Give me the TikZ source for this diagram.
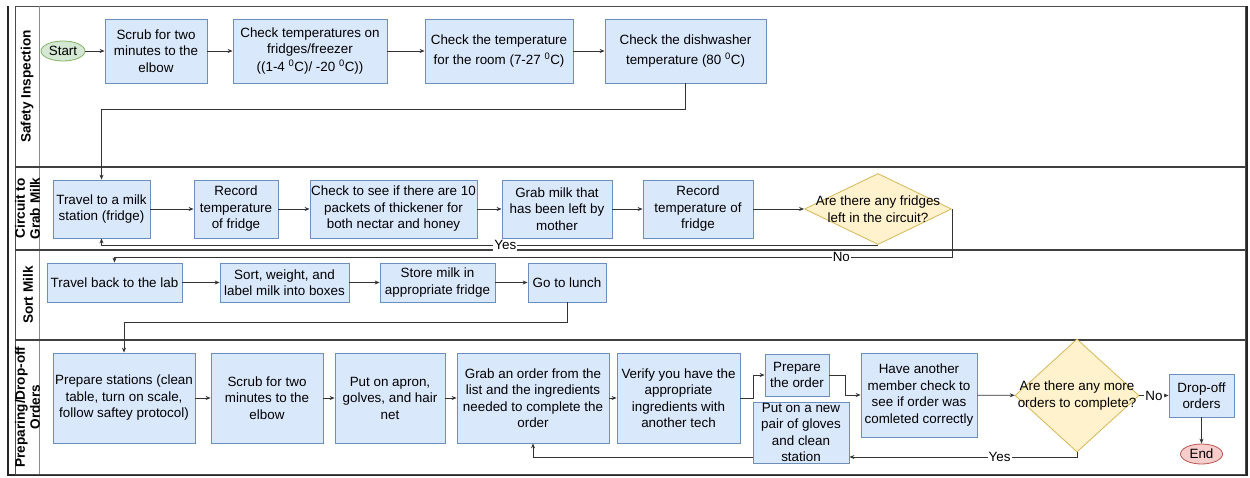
\documentclass[tikz,border=0pt]{standalone}
\usepackage{fontspec}
\setmainfont{Liberation Sans}
\usetikzlibrary{shapes.geometric,arrows.meta}
\definecolor{bfill}{HTML}{DAE8FC}
\definecolor{bdraw}{HTML}{6C8EBF}
\definecolor{yfill}{HTML}{FFF2CC}
\definecolor{ydraw}{HTML}{D6B656}
\definecolor{gfill}{HTML}{D5E8D4}
\definecolor{gdraw}{HTML}{82B366}
\definecolor{rfill}{HTML}{F8CECC}
\definecolor{rdraw}{HTML}{B85450}
\newcommand{\dg}{\textsuperscript{0}}
\begin{document}
\begin{tikzpicture}[x=1pt,y=-1pt,
  every node/.style={font=\fontsize{13.4}{16.5}\selectfont},
  box/.style={draw=bdraw,fill=bfill,align=center,inner sep=0pt,line width=0.8pt},
  bx/.style 2 args={box,minimum width=#1pt,minimum height=#2pt},
  dia/.style={diamond,draw=ydraw,fill=yfill,inner sep=0pt,line width=0.8pt},
  diatext/.style={align=center,inner sep=0pt},
  startnode/.style={ellipse,draw=gdraw,fill=gfill,inner sep=0pt,line width=0.8pt,minimum width=44pt,minimum height=20pt},
  endnode/.style={ellipse,draw=rdraw,fill=rfill,inner sep=0pt,line width=0.8pt,minimum width=42pt,minimum height=20pt},
  arr/.style={draw=black!80,line width=0.8pt,-{Stealth[length=5pt,width=4pt]}},
  lbl/.style={fill=white,inner sep=1pt},
  lanelbl/.style={rotate=90,align=center,inner sep=0pt,font=\fontsize{13.6}{15}\selectfont\bfseries},
  lanesep/.style={draw=black!75,line width=1.1pt},
]
\useasboundingbox (0,0) rectangle (1250,477);
% frame
\draw[black!85,line width=1.8pt] (8,6) -- (8,475) -- (1247,475) -- (1247,6);
\draw[black!70,line width=0.9pt] (15,6) rectangle (1245,474);
\draw[black!45,line width=0.8pt] (39,6) -- (39,474);
\draw[lanesep] (15,167) -- (1245,167);
\draw[lanesep] (15,250) -- (1245,250);
\draw[lanesep] (15,340) -- (1245,340);
% lane labels
\node[lanelbl] (L1) at (27,86.5) {Safety Inspection};
\node[lanelbl] (L2) at (27.5,208.5) {Circuit to\\Grab Milk};
\node[lanelbl] (L3) at (28,295) {Sort Milk};
\node[lanelbl] (L4) at (27.5,407) {Preparing/Drop-off\\Orders};
% lane 1
\node[startnode] (start) at (63,51) {Start};
\node[bx={102}{64}] (s1) at (156,51) {Scrub for two\\minutes to the\\elbow};
\node[bx={154}{64}] (s2) at (310,51) {Check temperatures on\\fridges/freezer\\[1pt]((1-4 \dg C)/ -20 \dg C))};
\node[bx={148}{64}] (s3) at (499,51) {Check the temperature\\[3.5pt]for the room (7-27 \dg C)};
\node[bx={161}{64}] (s4) at (685.5,51) {Check the dishwasher\\[3.5pt]temperature (80 \dg C)};
% lane 2
\node[bx={97}{58}] (c1) at (101.5,209) {Travel to a milk\\station (fridge)};
\node[bx={84}{58}] (c2) at (236,209) {Record\\temperature\\of fridge};
\node[bx={167}{58}] (c3) at (393.5,209) {Check to see if there are 10\\packets of thickener for\\both nectar and honey};
\node[bx={110}{58}] (c4) at (557,209) {Grab milk that\\has been left by\\mother};
\node[bx={110}{58}] (c5) at (698,209) {Record\\temperature of\\fridge};
\node[dia,minimum width=147pt,minimum height=71pt] (d1) at (878,209) {};
\node[diatext] (d1t) at (d1) {Are there any fridges\\left in the circuit?};
% lane 3
\node[bx={135}{39}] (t1) at (114.5,282.5) {Travel back to the lab};
\node[bx={129}{39}] (t2) at (284.5,282.5) {Sort, weight, and\\label milk into boxes};
\node[bx={115}{39}] (t3) at (437.5,282.5) {Store milk in\\appropriate fridge};
\node[bx={78}{39}] (t4) at (567,282.5) {Go to lunch};
% lane 4
\node[bx={142}{90}] (p1) at (124,398) {Prepare stations (clean\\table, turn on scale,\\follow saftey protocol)};
\node[bx={112}{90}] (p2) at (267,398) {Scrub for two\\minutes to the\\elbow};
\node[bx={110}{90}] (p3) at (390,398) {Put on apron,\\golves, and hair\\net};
\node[bx={152}{90}] (p4) at (533,398) {Grab an order from the\\list and the ingredients\\needed to complete the\\order};
\node[bx={123}{90}] (p5) at (678.5,398) {Verify you have the\\appropriate\\ingredients with\\another tech};
\node[bx={64}{42}] (p6) at (797,375) {Prepare\\the order};
\node[bx={96}{61}] (p7) at (801,432.5) {Put on a new\\pair of gloves\\and clean\\station};
\node[bx={116}{84}] (p8) at (919,395) {Have another\\member check to\\see if order was\\comleted correctly};
\node[dia,minimum width=124pt,minimum height=113pt] (d2) at (1077,395.5) {};
\node[diatext] (d2t) at (d2) {Are there any more\\orders to complete?};
\node[bx={65}{43}] (q1) at (1201.5,395.5) {Drop-off\\orders};
\node[endnode] (end) at (1201.5,454) {End};
\coordinate (yl) at (0,457);
% connectors lane 1
\draw[arr] (start) -- (s1);
\draw[arr] (s1) -- (s2);
\draw[arr] (s2) -- (s3);
\draw[arr] (s3) -- (s4);
\draw[arr] (s4.south) -- ++(0,26) -| (c1.north);
% lane 2
\draw[arr] (c1) -- (c2);
\draw[arr] (c2) -- (c3);
\draw[arr] (c3) -- (c4);
\draw[arr] (c4) -- (c5);
\draw[arr] (c5) -- (d1);
\draw[arr] (d1.south) -| node[pos=0.24,lbl] (yes1) {Yes} (c1.south);
\draw[arr] (d1.east) -- ++(0,48) -| node[pos=0.066,lbl] (no1) {No} (t1.north);
% lane 3
\draw[arr] (t1) -- (t2);
\draw[arr] (t2) -- (t3);
\draw[arr] (t3) -- (t4);
\draw[arr] (t4.south) -- ++(0,19.5) -| (p1.north);
% lane 4
\draw[arr] (p1) -- (p2);
\draw[arr] (p2) -- (p3);
\draw[arr] (p3) -- (p4);
\draw[arr] (p4) -- (p5);
\draw[arr] (p5.east) -- ++(13,0) |- (p6.west);
\draw[arr] (p6.east) -- ++(16,0) |- (p8.west);
\draw[arr] (p8) -- (d2);
\draw[arr] (d2) -- node[midway,lbl] (no2) {No} (q1);
\draw[arr] (q1) -- (end);
\draw[arr] (d2.south) |- node[pos=0.67,lbl] (yes2) {Yes} (p7.east |- yl);
\draw[arr] (p7.west |- yl) -| (p4.south);
\end{tikzpicture}
\end{document}
